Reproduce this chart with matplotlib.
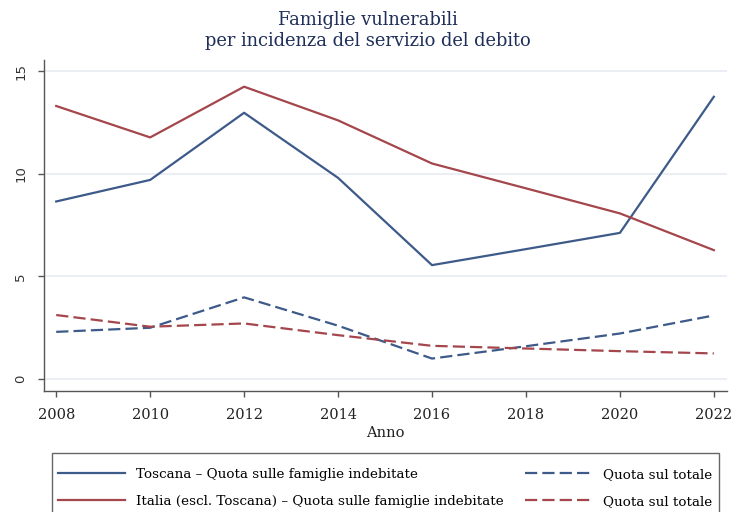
import numpy as np
import matplotlib
matplotlib.use("Agg")
import matplotlib.pyplot as plt
from matplotlib.patches import Rectangle

# Dati (valori percentuali)
anni = [2008, 2010, 2012, 2014, 2016, 2018, 2020, 2022]
toscana_indebitate = [8.65, 9.7, 12.97, 9.8, 5.55, 6.33, 7.12, 13.75]
italia_indebitate = [13.3, 11.77, 14.24, 12.6, 10.5, 9.29, 8.07, 6.28]
toscana_totale = [2.3, 2.5, 3.98, 2.6, 1.0, 1.6, 2.22, 3.1]
italia_totale = [3.12, 2.55, 2.71, 2.14, 1.62, 1.49, 1.36, 1.25]
y_ticks = [0, 5, 10, 15]

BLU = "#3d5a89"
ROSSO = "#a4464c"
SERIF = ["DejaVu Serif"]
TRATTEGGIO = (0, (5.5, 2.3))

fig = plt.figure(figsize=(7.35, 5.12), dpi=100)
ax = fig.add_axes([44 / 735, 1 - 391 / 512, (727 - 44) / 735, (391 - 60) / 512])

ax.plot(anni, toscana_indebitate, color=BLU, lw=1.6,
        label="Toscana – Quota sulle famiglie indebitate")
ax.plot(anni, italia_indebitate, color=ROSSO, lw=1.6,
        label="Italia (escl. Toscana) – Quota sulle famiglie indebitate")
ax.plot(anni, toscana_totale, color=BLU, lw=1.6, ls=TRATTEGGIO,
        label="Quota sul totale")
ax.plot(anni, italia_totale, color=ROSSO, lw=1.6, ls=TRATTEGGIO,
        label="Quota sul totale")

ax.set_xlim(2007.74, 2022.28)
ax.set_ylim(-0.58, 15.54)
ax.set_xticks(anni)
ax.set_yticks(y_ticks)
ax.grid(axis="y", color="#e9eef5", lw=1.3)
ax.set_axisbelow(True)

for s in ["top", "right"]:
    ax.spines[s].set_visible(False)
for s in ["left", "bottom"]:
    ax.spines[s].set_color("#555555")
    ax.spines[s].set_linewidth(1.0)

ax.tick_params(axis="both", colors="#555555", length=4, width=1.0)
ax.tick_params(axis="x", labelcolor="#222222", pad=8)
ax.tick_params(axis="y", labelcolor="#333333", pad=8)
for lab in ax.get_xticklabels():
    lab.set_family(SERIF)
    lab.set_fontsize(10.5)
for lab in ax.get_yticklabels():
    lab.set_family(["DejaVu Sans"])
    lab.set_fontsize(9.5)
    lab.set_rotation(90)
    lab.set_va("center")

ax.set_xlabel("Anno", family=SERIF, fontsize=10.5, color="#222222", labelpad=3)

fig.text(0.5, 1 - 11 / 512, "Famiglie vulnerabili\nper incidenza del servizio del debito",
         ha="center", va="top", family=SERIF, fontsize=12.9, color="#1f2f5a",
         linespacing=1.2)

# cornice della legenda (taglia il bordo inferiore come nell'originale)
fig.add_artist(Rectangle((52 / 735, -0.05), (719 - 52) / 735, 0.05 + 1 - 453 / 512,
                         transform=fig.transFigure, fill=False,
                         edgecolor="#666666", lw=1.0))

h, l = ax.get_legend_handles_labels()
leg = fig.legend(h, l, ncol=2, loc="upper left", mode="expand",
                 bbox_to_anchor=(58 / 735, -0.2, (712 - 58) / 735, 1 - 468 / 512 + 0.2),
                 prop={"family": SERIF, "size": 9.7}, frameon=False,
                 handlelength=5.0, handletextpad=0.8,
                 borderpad=0, labelspacing=1.05, borderaxespad=0)

fig.savefig("out.png", dpi=100)
